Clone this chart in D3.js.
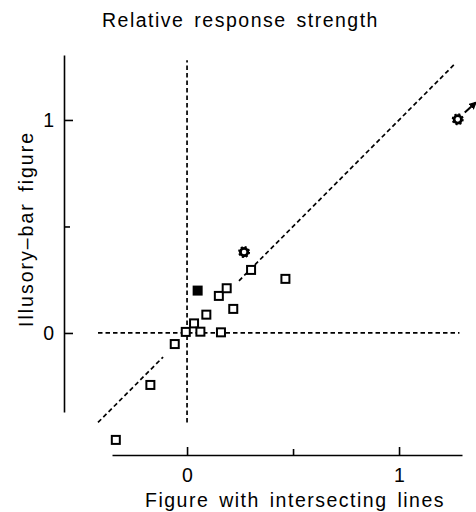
<!DOCTYPE html>
<html>
<head>
<meta charset="utf-8">
<script src="https://cdn.jsdelivr.net/npm/d3@7"></script>
<style>
  body { margin: 0; background: #fff; }
  svg text { font-family: "Liberation Sans", Arial, sans-serif; fill: #000; }
</style>
</head>
<body>
<svg width="476" height="512"></svg>
<script>
// open squares
var sqX = [-0.336, -0.173, -0.058, -0.006, 0.033, 0.063, 0.091, 0.160, 0.150, 0.187, 0.218, 0.302, 0.464];
var sqY = [-0.502, -0.244, -0.052, 0.005, 0.045, 0.006, 0.086, 0.003, 0.174, 0.210, 0.113, 0.296, 0.254];
// filled square
var fillX = [0.050];
var fillY = [0.199];
// gear markers
var gearX = [0.269, 1.277];
var gearY = [0.380, 1.003];
var tickVals = [0, 0.5, 1];
var tickLabels = ["0", "", "1"];

var svg = d3.select("svg");
var fs = "19.5px", ls = "1.5px", ws = "3px";

// axes extents in data units (axis lines are shorter than the frame)
var x = d3.scaleLinear().domain([-0.354, 1.297]).range([112, 462]),
    y = d3.scaleLinear().domain([-0.371, 1.305]).range([412, 55]);

svg.append("text")
   .attr("x", 102).attr("y", 27)
   .attr("font-size", fs).attr("letter-spacing", ls).attr("word-spacing", ws)
   .text("Relative response strength");

// dashed guides
var guides = g => g.attr("stroke", "#000").attr("stroke-width", 1.7)
                   .attr("stroke-dasharray", "4.5,3").attr("fill", "none");
var line = d3.line().x(d => x(d[0])).y(d => y(d[1]));
svg.append("path").attr("d", line([[-0.42, 0], [1.285, 0]])).call(guides);
svg.append("path").attr("d", line([[0, -0.42], [0, 1.28]])).call(guides);
svg.append("path").attr("d", line([[-0.42, -0.42], [-0.113, -0.113]])).call(guides);
svg.append("path").attr("d", line([[0.245, 0.245], [1.265, 1.265]])).call(guides);

// x axis
var xa = svg.append("g")
   .attr("transform", "translate(0,455)")
   .call(d3.axisBottom(x).tickValues(tickVals).tickSize(-8).tickSizeOuter(0).tickPadding(13)
           .tickFormat((d, i) => tickLabels[i]));
xa.selectAll("line").filter(d => d === 0.5).attr("y2", -6);

// y axis
var ya = svg.append("g")
   .attr("transform", "translate(64,0)")
   .call(d3.axisLeft(y).tickValues(tickVals).tickSize(-9).tickSizeOuter(0).tickPadding(10)
           .tickFormat((d, i) => tickLabels[i]));
ya.selectAll("line").filter(d => d === 0.5).attr("x2", 6);

svg.selectAll(".domain").attr("stroke-width", 1.6);
svg.selectAll(".tick line").attr("stroke-width", 1.6);
svg.selectAll(".tick text").attr("font-size", fs).style("font-family", "'Liberation Sans', Arial, sans-serif");

svg.append("text")
   .attr("x", 145).attr("y", 507)
   .attr("font-size", fs).attr("letter-spacing", ls).attr("word-spacing", ws)
   .text("Figure with intersecting lines");

svg.append("text")
   .attr("transform", "translate(33,327) rotate(-90)")
   .attr("font-size", fs).attr("letter-spacing", "2px").attr("word-spacing", ws)
   .text("Illusory\u2013bar figure");

// markers
svg.selectAll(".sq")
   .data(d3.zip(sqX, sqY))
   .enter().append("rect")
   .attr("class", "sq")
   .attr("x", d => x(d[0]) - 4).attr("y", d => y(d[1]) - 4)
   .attr("width", 8).attr("height", 8)
   .attr("fill", "#fff").attr("stroke", "#000").attr("stroke-width", 2);

svg.selectAll(".fsq")
   .data(d3.zip(fillX, fillY))
   .enter().append("rect")
   .attr("class", "fsq")
   .attr("x", d => x(d[0]) - 5).attr("y", d => y(d[1]) - 5)
   .attr("width", 10).attr("height", 10)
   .attr("fill", "#000");

var gears = svg.selectAll(".gear")
   .data(d3.zip(gearX, gearY))
   .enter().append("g")
   .attr("class", "gear")
   .attr("transform", d => "translate(" + x(d[0]) + "," + y(d[1]) + ")");
var seg = 2 * Math.PI * 4.9 / 8 / 2;
gears.append("circle").attr("r", 4.9)
     .attr("fill", "none").attr("stroke", "#000").attr("stroke-width", 2.2)
     .attr("stroke-dasharray", seg + "," + seg);
gears.append("circle").attr("r", 3.7)
     .attr("fill", "#fff").attr("stroke", "#000").attr("stroke-width", 2.8);

// arrow leaving the top right point
svg.append("defs").append("marker")
   .attr("id", "ah").attr("viewBox", "0 0 10 10").attr("refX", 8).attr("refY", 5)
   .attr("markerWidth", 4).attr("markerHeight", 4).attr("orient", "auto")
   .append("path").attr("d", "M0,0L10,5L0,10z").attr("fill", "#000");
svg.append("path")
   .attr("d", line([[1.31, 1.035], [1.362, 1.082]]))
   .attr("stroke", "#000").attr("stroke-width", 2).attr("marker-end", "url(#ah)");
</script>
</body>
</html>
